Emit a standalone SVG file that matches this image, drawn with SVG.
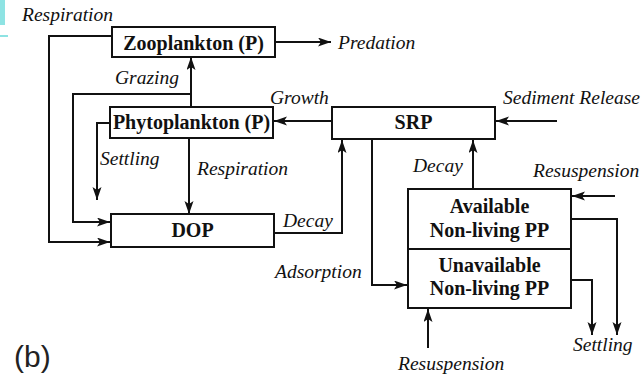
<svg xmlns="http://www.w3.org/2000/svg" width="644" height="378" viewBox="0 0 644 378">
<style>
.box{fill:#fff;stroke:#111;stroke-width:2}
.bt{font-family:"Liberation Serif",serif;font-weight:bold;font-size:20px;fill:#111;text-anchor:middle}
.lb{font-family:"Liberation Serif",serif;font-style:italic;font-size:19.5px;fill:#111}
.c{fill:none;stroke:#111;stroke-width:2}
.a{marker-end:url(#ah)}
</style>
<defs>
<marker id="ah" markerUnits="userSpaceOnUse" markerWidth="14" markerHeight="10" refX="13" refY="4.5" orient="auto">
<path d="M0,0 L13,4.5 L0,9 L3,4.5 z" fill="#111"/>
</marker>
</defs>
<rect width="644" height="378" fill="#fff"/>
<rect x="0" y="0" width="5" height="25" fill="#8ee3e3"/>
<rect x="0" y="35" width="8" height="2" fill="#8ee3e3"/>
<g id="connectors">
<path class="c a" d="M275,42 H331"/>
<path class="c a" d="M112,36 H49 V242 H110"/>
<path class="c a" d="M191,107 V57"/>
<path class="c a" d="M191,94 H73 V222 H110"/>
<path class="c a" d="M110,123 H97 V200"/>
<path class="c a" d="M189,138 V214"/>
<path class="c a" d="M274,233 H342 V140"/>
<path class="c a" d="M332,121 H274"/>
<path class="c a" d="M557,121 H496"/>
<path class="c a" d="M473,188 V140"/>
<path class="c a" d="M372,139 V285 H407"/>
<path class="c a" d="M615,196 H572"/>
<path class="c a" d="M571,219 H617 V335"/>
<path class="c a" d="M571,280 H592 V335"/>
<path class="c a" d="M428,348 V309"/>
</g>
<g id="zooplankton">
<rect class="box" x="112" y="27" width="163" height="30"/>
<text class="bt" x="193.5" y="50">Zooplankton (P)</text>
</g>
<g id="phytoplankton">
<rect class="box" x="110" y="107" width="163" height="31"/>
<text class="bt" x="191.5" y="129">Phytoplankton (P)</text>
</g>
<g id="dop">
<rect class="box" x="111" y="214" width="163" height="33"/>
<text class="bt" x="192.5" y="237">DOP</text>
</g>
<g id="srp">
<rect class="box" x="332" y="107" width="163" height="32"/>
<text class="bt" x="413.5" y="129">SRP</text>
</g>
<g id="available">
<rect class="box" x="408" y="189" width="163" height="60"/>
<text class="bt" x="489.5" y="213">Available</text>
<text class="bt" x="489.5" y="237">Non-living PP</text>
</g>
<g id="unavailable">
<rect class="box" x="408" y="249" width="163" height="59"/>
<text class="bt" x="489.5" y="272">Unavailable</text>
<text class="bt" x="489.5" y="295">Non-living PP</text>
</g>
<g id="labels">
<text class="lb" x="22" y="21">Respiration</text>
<text class="lb" x="338" y="49">Predation</text>
<text class="lb" x="115" y="84">Grazing</text>
<text class="lb" x="270" y="104">Growth</text>
<text class="lb" x="503" y="104">Sediment Release</text>
<text class="lb" x="100" y="165">Settling</text>
<text class="lb" x="197" y="175">Respiration</text>
<text class="lb" x="413" y="172">Decay</text>
<text class="lb" x="533" y="177">Resuspension</text>
<text class="lb" x="283" y="227">Decay</text>
<text class="lb" x="275" y="278">Adsorption</text>
<text class="lb" x="573" y="351">Settling</text>
<text class="lb" x="398" y="370">Resuspension</text>
<text x="14" y="367" font-family="'Liberation Sans',sans-serif" font-size="30" fill="#222">(b)</text>
</g>
</svg>
